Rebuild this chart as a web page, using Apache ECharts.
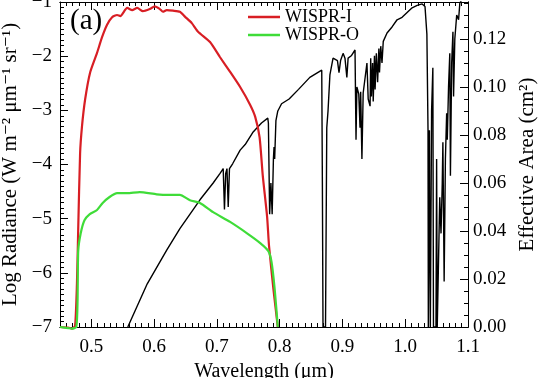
<!DOCTYPE html>
<html><head><meta charset="utf-8">
<script src="https://cdn.jsdelivr.net/npm/echarts/dist/echarts.min.js"></script>
<style>html,body{margin:0;padding:0;background:#fff}#c{width:540px;height:378px}</style>
</head><body><div id="c"></div>
<script>
// WISPR-I log radiance
const wlI = [0.450,0.463,0.469,0.474,0.477,0.479,0.482,0.485,0.490,0.498,0.509,0.517,0.525,0.533,0.541,0.546,0.557,0.565,0.573,0.582,0.593,0.601,0.609,0.614,0.620,0.630,0.641,0.649,0.660,0.670,0.689,0.705,0.721,0.737,0.753,0.761,0.768,0.773,0.780,0.783,0.790,0.797];
const radI = [-7.0,-7.01,-7.03,-6.98,-6.2,-5.2,-3.8,-3.3,-2.8,-2.3,-1.94,-1.65,-1.42,-1.28,-1.24,-1.26,-1.11,-1.15,-1.11,-1.17,-1.13,-1.08,-1.13,-1.18,-1.15,-1.16,-1.18,-1.27,-1.39,-1.55,-1.74,-2.02,-2.29,-2.57,-2.9,-3.12,-3.5,-4.2,-4.97,-5.5,-6.3,-7.0];
// WISPR-O log radiance
const wlO = [0.450,0.463,0.469,0.476,0.478,0.479,0.483,0.489,0.497,0.509,0.518,0.529,0.541,0.557,0.577,0.604,0.625,0.641,0.657,0.673,0.694,0.721,0.748,0.769,0.782,0.787,0.792,0.797];
const radO = [-7.0,-7.02,-7.03,-7.0,-6.5,-5.6,-5.27,-5.03,-4.92,-4.84,-4.71,-4.6,-4.53,-4.53,-4.51,-4.55,-4.56,-4.56,-4.66,-4.71,-4.88,-5.06,-5.27,-5.45,-5.6,-5.8,-6.3,-7.0];
// Effective area (right axis)
const wlA = [0.558,0.589,0.620,0.641,0.673,0.694,0.705,0.710,0.712,0.714,0.716,0.718,0.720,0.725,0.737,0.745,0.757,0.771,0.781,0.782,0.784,0.786,0.788,0.790,0.791,0.792,0.794,0.797,0.803,0.815,0.830,0.848,0.867,0.868,0.869,0.873,0.875,0.877,0.880,0.885,0.888,0.892,0.8945,0.897,0.901,0.904,0.907,0.909,0.914,0.920,0.9216,0.923,0.926,0.928,0.929,0.931,0.933,0.939,0.941,0.944,0.945,0.946,0.948,0.949,0.951,0.952,0.954,0.956,0.958,0.959,0.961,0.963,0.965,0.971,0.979,0.987,0.995,1.003,1.011,1.019,1.027,1.0315,1.0345,1.0363,1.0368,1.038,1.0385,1.039,1.040,1.042,1.044,1.045,1.049,1.050,1.051,1.054,1.055,1.057,1.059,1.060,1.062,1.064,1.066,1.067,1.069,1.071,1.072,1.074,1.076,1.077,1.079,1.082,1.085,1.087,1.092,1.100];
const areaA = [0.000,0.018,0.032,0.041,0.053,0.060,0.064,0.066,0.049,0.064,0.066,0.050,0.066,0.068,0.0737,0.076,0.081,0.085,0.087,0.085,0.047,0.060,0.047,0.070,0.075,0.070,0.086,0.090,0.093,0.095,0.099,0.104,0.107,0.060,0.000,0.000,0.083,0.090,0.105,0.112,0.1125,0.111,0.106,0.111,0.114,0.112,0.104,0.112,0.113,0.1154,0.078,0.100,0.097,0.083,0.098,0.070,0.0975,0.110,0.095,0.092,0.112,0.096,0.110,0.094,0.113,0.099,0.114,0.102,0.116,0.106,0.117,0.110,0.119,0.1225,0.125,0.128,0.129,0.131,0.133,0.134,0.1346,0.1335,0.122,0.082,0.000,0.000,0.082,0.046,0.000,0.090,0.108,0.000,0.000,0.070,0.000,0.000,0.054,0.039,0.060,0.077,0.019,0.070,0.089,0.078,0.100,0.114,0.063,0.110,0.123,0.096,0.120,0.130,0.128,0.135,0.137,0.140];
const xTickLabels = ['0.5','0.6','0.7','0.8','0.9','1.0','1.1'];
const leftTickLabels = ['−7','−6','−5','−4','−3','−2','−1'];
const rightTickLabels = ['0.00','0.02','0.04','0.06','0.08','0.10','0.12'];

const FONT = '"Liberation Serif","DejaVu Serif",serif';
const pair = (a,b) => a.map((v,i)=>[v,b[i]]);
const chart = echarts.init(document.getElementById('c'), null, {renderer:'canvas'});
const XMIN=0.45, XMAX=1.1, RMAX=0.1354;
const tick = len => ({show:true, inside:true, length:len, lineStyle:{color:'#000', width:1}});
const line = () => ({show:true, onZero:false, lineStyle:{color:'#000', width:1}});
const G = {left:60, right:72, top:2, bottom:51, containLabel:false, outerBoundsMode:'none'};
function xAxisMain(pos, labels){
  return {gridIndex:0, type:'value', position:pos, min:XMIN, max:XMAX, splitNumber:6, splitLine:{show:false},
    axisLine:line(), axisTick:tick(8),
    axisLabel:{show:labels, showMinLabel:false, margin:11, color:'#000', fontFamily:FONT, fontSize:19,
      formatter:v=>{const s=v.toFixed(1); return (Math.abs(v*10-Math.round(v*10))<1e-6 && xTickLabels.includes(s))?s:'';}},
    name: pos==='bottom'?'Wavelength (μm)':'', nameLocation:'middle', nameGap:29,
    nameTextStyle:{color:'#000', fontFamily:FONT, fontSize:20}};
}
function xAxisMinor(pos){
  return {gridIndex:1, type:'value', position:pos, min:XMIN, max:XMAX, interval:0.01, splitLine:{show:false},
    axisLine:line(), axisTick:tick(4), axisLabel:{show:false}};
}
const option = {
  animation:false,
  backgroundColor:'#fff',
  grid:[Object.assign({}, G), Object.assign({}, G)],
  xAxis:[xAxisMain('bottom',true), xAxisMain('top',false), xAxisMinor('bottom'), xAxisMinor('top')],
  yAxis:[
    {gridIndex:0, type:'value', position:'left', min:-7, max:-1, interval:1, splitLine:{show:false},
     axisLine:line(), axisTick:tick(8),
     minorTick:{show:true, splitNumber:10, length:4, lineStyle:{color:'#000', width:1}},
     axisLabel:{margin:8, color:'#000', fontFamily:FONT, fontSize:19, formatter:v=>leftTickLabels[Math.round(v)+7]},
     name:'Log Radiance (W m⁻² μm⁻¹ sr⁻¹)', nameLocation:'middle', nameGap:38, nameRotate:90,
     nameTextStyle:{color:'#000', fontFamily:FONT, fontSize:21}},
    {gridIndex:0, type:'value', position:'right', min:0, max:RMAX, interval:0.02, splitLine:{show:false},
     axisLine:line(), axisTick:tick(8),
     axisLabel:{margin:5, color:'#000', fontFamily:FONT, fontSize:19, showMaxLabel:false,
       formatter:v=>{const i=Math.round(v/0.02); return Math.abs(v-i*0.02)<1e-9 ? (rightTickLabels[i]||'') : '';}},
     name:'Effective Area (cm²)', nameLocation:'middle', nameGap:46, nameRotate:90,
     nameTextStyle:{color:'#000', fontFamily:FONT, fontSize:21}},
    {gridIndex:1, type:'value', position:'right', min:0, max:RMAX, interval:0.005, splitLine:{show:false},
     axisLine:line(), axisTick:tick(4), axisLabel:{show:false}}
  ],
  legend:{data:['WISPR-I','WISPR-O'], orient:'vertical', left:248, top:8, padding:0, icon:'rect', itemWidth:32, itemHeight:2.5, itemGap:0,
    textStyle:{color:'#000', fontFamily:FONT, fontSize:18, lineHeight:17}},
  graphic:[{type:'text', left:70, top:7, style:{text:'(a)', fill:'#000', font:'29px "Liberation Serif"'}}],
  series:[
    {name:'Area', type:'line', xAxisIndex:0, yAxisIndex:1, data:pair(wlA,areaA), symbol:'none', clip:true,
     lineStyle:{color:'#000', width:1.4}, itemStyle:{color:'#000'}, z:2},
    {name:'WISPR-I', type:'line', xAxisIndex:0, yAxisIndex:0, data:pair(wlI,radI), symbol:'none', smooth:0.2, clip:false,
     lineStyle:{color:'#d81e24', width:2.2}, itemStyle:{color:'#d81e24'}, z:3},
    {name:'WISPR-O', type:'line', xAxisIndex:0, yAxisIndex:0, data:pair(wlO,radO), symbol:'none', smooth:0.2, clip:false,
     lineStyle:{color:'#3fdc38', width:2.2}, itemStyle:{color:'#3fdc38'}, z:4}
  ]
};
chart.setOption(option);
</script></body></html>
